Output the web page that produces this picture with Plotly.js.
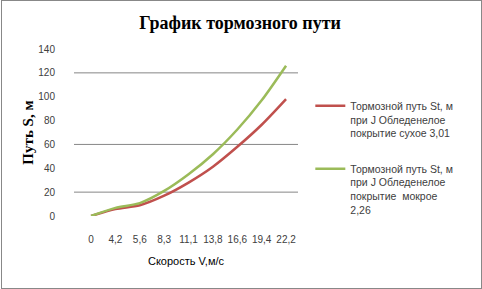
<!DOCTYPE html>
<html>
<head>
<meta charset="utf-8">
<script src="https://cdn.plot.ly/plotly-3.0.1.min.js"></script>
<style>
html,body{margin:0;padding:0;background:#fff;}
#wrap{position:relative;width:482px;height:289px;}
#chart{position:absolute;left:0;top:0;width:482px;height:289px;}
#frame{position:absolute;left:1px;top:0;width:479px;height:287px;border:1px solid #888;pointer-events:none;}
</style>
</head>
<body>
<div id="wrap"><div id="chart"></div><div id="frame"></div></div>
<script>
// Data
const speeds = ["0", "4,2", "5,6", "8,3", "11,1", "13,8", "16,6", "19,4", "22,2"];
const pathDry = [0, 5.8, 9, 17, 28, 41.3, 58, 76.5, 98];
const pathWet = [0, 6.8, 10.8, 21, 35, 51.8, 72.5, 97, 126];
const nameDry = "Тормозной путь St, м<br>при J Обледенелое<br>покрытие сухое 3,01";
const nameWet = "Тормозной путь St, м<br>при J Обледенелое<br>покрытие  мокрое<br>2,26";
const yTicks = [0, 20, 40, 60, 80, 100, 120, 140];
const gridValues = [20, 60, 120];

const traces = [
  {x: speeds, y: pathDry, name: nameDry, type: 'scatter', mode: 'lines',
   line: {color: '#C0504D', width: 2.5, shape: 'spline', smoothing: 0.8}, legendgroup: 'a'},
  {x: speeds, y: pathWet, name: nameWet, type: 'scatter', mode: 'lines',
   line: {color: '#9BBB59', width: 2.5, shape: 'spline', smoothing: 0.8}, legendgroup: 'b'}
];

const layout = {
  width: 482, height: 289,
  margin: {l: 74, r: 184, t: 49, b: 73},
  paper_bgcolor: '#ffffff', plot_bgcolor: '#ffffff',
  font: {family: 'Liberation Sans, Arial, sans-serif', size: 10, color: '#404040'},
  title: {text: '<b>График тормозного пути</b>', x: 0.498, xref: 'container', xanchor: 'center',
          y: 0.922, yref: 'container', yanchor: 'middle',
          font: {family: 'Liberation Serif, Times New Roman, serif', size: 18, color: '#000'}},
  xaxis: {type: 'category', range: [-0.7, 8.49], showgrid: false, zeroline: false, showline: false,
          ticks: 'outside', ticklen: 14, tickcolor: 'rgba(0,0,0,0)',
          tickfont: {size: 10, color: '#404040'},
          title: {text: 'Скорость V,м/с', standoff: 13, font: {size: 11, color: '#000'}}},
  yaxis: {range: [0, 140], tickvals: yTicks, showgrid: false, zeroline: false, showline: false,
          ticks: 'outside', ticklen: 16, tickcolor: 'rgba(0,0,0,0)',
          tickfont: {size: 10, color: '#404040'},
          title: {text: '<b>Путь S, м</b>', standoff: 1,
                  font: {family: 'Liberation Serif, Times New Roman, serif', size: 15, color: '#000'}}},
  shapes: gridValues.map(v => ({type: 'line', xref: 'paper', x0: 0, x1: 1, yref: 'y', y0: v, y1: v,
                                line: {color: '#868686', width: 1}, layer: 'below'})),
  showlegend: true,
  legend: {x: 1.055, xanchor: 'left', y: 0.74, yanchor: 'top', valign: 'top',
           tracegroupgap: 19, font: {size: 10.5, color: '#404040'}, bgcolor: 'rgba(0,0,0,0)'}
};

Plotly.newPlot('chart', traces, layout, {displayModeBar: false, staticPlot: true});
</script>
</body>
</html>
